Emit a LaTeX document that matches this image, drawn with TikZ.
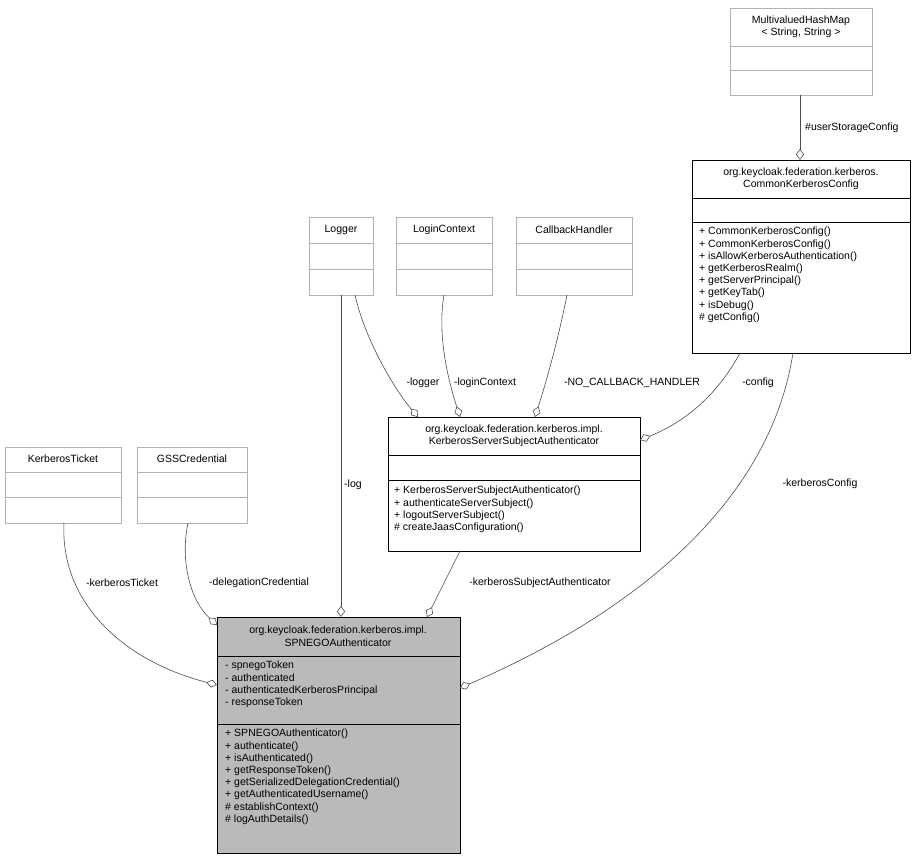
\documentclass[tikz,border=0pt]{standalone}
\usepackage{fontspec}
\setmainfont{Liberation Sans}
\usetikzlibrary{arrows.meta}
\begin{document}
\begin{tikzpicture}[x=1pt,y=-1pt,font=\fontsize{10.5}{12.5}\selectfont]
  \tikzstyle{gbox}=[draw=black!30,fill=white,line width=0.7pt]
  \tikzstyle{bbox}=[draw=black,fill=white,line width=0.7pt]
  \tikzstyle{lbl}=[inner sep=1pt,align=center]
  \tikzstyle{mem}=[inner sep=0pt,anchor=north west,align=left,font=\fontsize{10.5}{12.2}\selectfont]
  \tikzstyle{agg}=[draw=black!70,line width=0.6pt,{Diamond[open,fill=white,length=11pt,width=8pt]}-]
  \useasboundingbox (0,0) rectangle (924,860);

  % gray classes
  \draw[gbox] (730,8) rectangle (872,95);
  \draw[black!30] (730,46) -- (872,46) (730,70) -- (872,70);
  \node[lbl] (mhm) at (801,27) {MultivaluedHashMap\\{< String, String >}};
  \foreach \x/\w/\n/\t in {309/64/logger/Logger,396/96/lctx/LoginContext,516/116/cbh/CallbackHandler}{
    \draw[gbox] (\x,217) rectangle (\x+\w,295);
    \draw[black!30] (\x,243) -- (\x+\w,243) (\x,269) -- (\x+\w,269);
    \node[lbl] (\n) at (\x+\w/2,230) {\t};
  }
  \foreach \x/\w/\n/\t in {5/116/ktk/KerberosTicket,137/110/gss/GSSCredential}{
    \draw[gbox] (\x,447) rectangle (\x+\w,523);
    \draw[black!30] (\x,472) -- (\x+\w,472) (\x,497) -- (\x+\w,497);
    \node[lbl] (\n) at (\x+\w/2,459) {\t};
  }

  % CommonKerberosConfig
  \draw[bbox] (692,160) rectangle (910,353);
  \draw (692,198) -- (910,198) (692,222) -- (910,222);
  \node[lbl] (ckc) at (801,179) {org.keycloak.federation.kerberos.\\CommonKerberosConfig};
  \node[mem] at (699,227) {+ CommonKerberosConfig()\\+ CommonKerberosConfig()\\+ isAllowKerberosAuthentication()\\+ getKerberosRealm()\\+ getServerPrincipal()\\+ getKeyTab()\\+ isDebug()\\\# getConfig()};

  % KerberosServerSubjectAuthenticator
  \draw[bbox] (388,417) rectangle (640,551);
  \draw (388,455) -- (640,455) (388,480) -- (640,480);
  \node[lbl] (kssa) at (514,436) {org.keycloak.federation.kerberos.impl.\\KerberosServerSubjectAuthenticator};
  \node[mem] at (394,486) {+ KerberosServerSubjectAuthenticator()\\+ authenticateServerSubject()\\+ logoutServerSubject()\\\# createJaasConfiguration()};

  % SPNEGOAuthenticator
  \draw[bbox,fill=black!27] (217,617) rectangle (460,853);
  \draw (217,656) -- (460,656) (217,724) -- (460,724);
  \node[lbl] (spnego) at (338,636) {org.keycloak.federation.kerberos.impl.\\SPNEGOAuthenticator};
  \node[mem] at (225,661) {- spnegoToken\\- authenticated\\- authenticatedKerberosPrincipal\\- responseToken};
  \node[mem] at (225,729) {+ SPNEGOAuthenticator()\\+ authenticate()\\+ isAuthenticated()\\+ getResponseToken()\\+ getSerializedDelegationCredential()\\+ getAuthenticatedUsername()\\\# establishContext()\\\# logAuthDetails()};

  % connectors
  \draw[agg] (800,160) -- (800,95);
  \node[anchor=west,inner sep=1pt] (l1) at (804,128) {\#userStorageConfig};
  \draw[agg] (341,617) -- (341,295);
  \node[fill=white,inner sep=1pt] (l2) at (353,485) {-log};
  \draw[agg] (418,417) .. controls (395,390) and (365,340) .. (355,295);
  \node[fill=white,inner sep=1pt] (l3) at (423,383) {-logger};
  \draw[agg] (460,417) .. controls (445,370) and (438,330) .. (444,295);
  \node[fill=white,inner sep=1pt] (l4) at (485,383) {-loginContext};
  \draw[agg] (535,417) .. controls (550,370) and (560,330) .. (567,295);
  \node[fill=white,inner sep=1pt] (l5) at (632,383) {-NO\_CALLBACK\_HANDLER};
  \draw[agg] (640,440) .. controls (690,420) and (720,390) .. (740,353);
  \node[fill=white,inner sep=1pt] (l6) at (758,383) {-config};
  \draw[agg] (460,688) .. controls (640,610) and (770,500) .. (793,353);
  \node[fill=white,inner sep=1pt] (l7) at (820,484) {-kerberosConfig};
  \draw[agg] (427,617) -- (460,551);
  \node[fill=white,inner sep=1pt] (l8) at (540,583) {-kerberosSubjectAuthenticator};
  \draw[agg] (217,685) .. controls (120,660) and (60,600) .. (64,523);
  \node[fill=white,inner sep=1pt] (l9) at (122,583) {-kerberosTicket};
  \draw[agg] (217,625) .. controls (190,600) and (180,560) .. (188,523);
  \node[fill=white,inner sep=1pt] (l10) at (259,583) {-delegationCredential};
\end{tikzpicture}
\end{document}
